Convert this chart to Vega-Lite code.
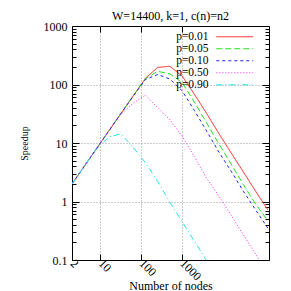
{
  "$schema": "https://vega.github.io/schema/vega-lite/v6.json",
  "width": 197,
  "height": 234,
  "autosize": {"type": "none"},
  "padding": {"left": 72, "top": 26, "right": 22, "bottom": 31},
  "background": "white",
  "title": {"text": "W=14400, k=1, c(n)=n2", "font": "Liberation Serif", "fontSize": 12, "fontWeight": "normal", "color": "black", "offset": 8, "dy": 11, "anchor": "middle"},
  "config": {
    "view": {"stroke": "black", "strokeWidth": 1},
    "axis": {"domain": false, "tickColor": "black", "labelColor": "black", "titleColor": "black", "labelFont": "Liberation Serif", "titleFont": "Liberation Serif", "titleFontWeight": "normal", "labelFontSize": 12, "titleFontSize": 12}
  },
  "data": {"values": [
    {"p": "p=0.01", "n": 2, "s": 2}, {"p": "p=0.01", "n": 4, "s": 4}, {"p": "p=0.01", "n": 8, "s": 8}, {"p": "p=0.01", "n": 16, "s": 16}, {"p": "p=0.01", "n": 32, "s": 32}, {"p": "p=0.01", "n": 64, "s": 64}, {"p": "p=0.01", "n": 128, "s": 128}, {"p": "p=0.01", "n": 256, "s": 196}, {"p": "p=0.01", "n": 512, "s": 205}, {"p": "p=0.01", "n": 1024, "s": 139}, {"p": "p=0.01", "n": 2048, "s": 68}, {"p": "p=0.01", "n": 4096, "s": 32}, {"p": "p=0.01", "n": 8192, "s": 14.5}, {"p": "p=0.01", "n": 16384, "s": 6.8}, {"p": "p=0.01", "n": 32768, "s": 3.2}, {"p": "p=0.01", "n": 65536, "s": 1.5}, {"p": "p=0.01", "n": 131072, "s": 0.72},
    {"p": "p=0.05", "n": 2, "s": 2}, {"p": "p=0.05", "n": 4, "s": 4}, {"p": "p=0.05", "n": 8, "s": 8}, {"p": "p=0.05", "n": 16, "s": 16}, {"p": "p=0.05", "n": 32, "s": 32}, {"p": "p=0.05", "n": 64, "s": 64}, {"p": "p=0.05", "n": 128, "s": 126}, {"p": "p=0.05", "n": 256, "s": 168}, {"p": "p=0.05", "n": 512, "s": 152}, {"p": "p=0.05", "n": 1024, "s": 108}, {"p": "p=0.05", "n": 2048, "s": 50}, {"p": "p=0.05", "n": 4096, "s": 22}, {"p": "p=0.05", "n": 8192, "s": 9.6}, {"p": "p=0.05", "n": 16384, "s": 4.4}, {"p": "p=0.05", "n": 32768, "s": 1.95}, {"p": "p=0.05", "n": 65536, "s": 0.9}, {"p": "p=0.05", "n": 131072, "s": 0.47},
    {"p": "p=0.10", "n": 2, "s": 2}, {"p": "p=0.10", "n": 4, "s": 4}, {"p": "p=0.10", "n": 8, "s": 8}, {"p": "p=0.10", "n": 16, "s": 16}, {"p": "p=0.10", "n": 32, "s": 32}, {"p": "p=0.10", "n": 64, "s": 63}, {"p": "p=0.10", "n": 128, "s": 122}, {"p": "p=0.10", "n": 256, "s": 148}, {"p": "p=0.10", "n": 512, "s": 124}, {"p": "p=0.10", "n": 1024, "s": 78}, {"p": "p=0.10", "n": 2048, "s": 36}, {"p": "p=0.10", "n": 4096, "s": 16}, {"p": "p=0.10", "n": 8192, "s": 7.0}, {"p": "p=0.10", "n": 16384, "s": 3.3}, {"p": "p=0.10", "n": 32768, "s": 1.5}, {"p": "p=0.10", "n": 65536, "s": 0.72}, {"p": "p=0.10", "n": 131072, "s": 0.35},
    {"p": "p=0.50", "n": 2, "s": 2}, {"p": "p=0.50", "n": 4, "s": 4}, {"p": "p=0.50", "n": 8, "s": 8}, {"p": "p=0.50", "n": 16, "s": 16}, {"p": "p=0.50", "n": 32, "s": 31}, {"p": "p=0.50", "n": 64, "s": 48}, {"p": "p=0.50", "n": 128, "s": 66}, {"p": "p=0.50", "n": 256, "s": 40}, {"p": "p=0.50", "n": 512, "s": 25}, {"p": "p=0.50", "n": 1024, "s": 13}, {"p": "p=0.50", "n": 2048, "s": 5.8}, {"p": "p=0.50", "n": 4096, "s": 2.5}, {"p": "p=0.50", "n": 8192, "s": 1.25}, {"p": "p=0.50", "n": 16384, "s": 0.58}, {"p": "p=0.50", "n": 32768, "s": 0.27}, {"p": "p=0.50", "n": 65536, "s": 0.126}, {"p": "p=0.50", "n": 131072, "s": 0.059},
    {"p": "p=0.90", "n": 2, "s": 2}, {"p": "p=0.90", "n": 4, "s": 4}, {"p": "p=0.90", "n": 8, "s": 7.8}, {"p": "p=0.90", "n": 16, "s": 12.7}, {"p": "p=0.90", "n": 32, "s": 14.3}, {"p": "p=0.90", "n": 64, "s": 8.4}, {"p": "p=0.90", "n": 128, "s": 4.6}, {"p": "p=0.90", "n": 256, "s": 2.2}, {"p": "p=0.90", "n": 512, "s": 0.97}, {"p": "p=0.90", "n": 1024, "s": 0.45}, {"p": "p=0.90", "n": 2048, "s": 0.21}, {"p": "p=0.90", "n": 4096, "s": 0.097}, {"p": "p=0.90", "n": 8192, "s": 0.045}
  ]},
  "layer": [
    {
      "mark": {"type": "line", "clip": true, "strokeWidth": 1},
      "encoding": {
        "x": {"field": "n", "type": "quantitative", "scale": {"type": "log", "domain": [2, 140000]},
          "axis": {"orient": "bottom", "values": [2, 10, 100, 1000], "format": "~g", "labelAngle": 45, "labelAlign": "left", "labelBaseline": "middle", "labelPadding": 7,
            "encode": {"labels": {"update": {"angle": {"value": 45}}}},
            "tickSize": -6, "grid": true, "gridColor": "#999999", "gridDash": [1, 2],
            "gridOpacity": {"condition": {"test": "datum.value > 3", "value": 1}, "value": 0},
            "title": "Number of nodes", "titleBaseline": "alphabetic", "titleY": 29}},
        "y": {"field": "s", "type": "quantitative", "scale": {"type": "log", "domain": [0.1, 1000]},
          "axis": {"orient": "left", "values": [0.1, 0.2, 0.3, 0.4, 0.5, 0.6, 0.7, 0.8, 0.9, 1, 2, 3, 4, 5, 6, 7, 8, 9, 10, 20, 30, 40, 50, 60, 70, 80, 90, 100, 200, 300, 400, 500, 600, 700, 800, 900, 1000],
            "format": "~g",
            "labelExpr": "abs(log(datum.value)/LN10 - round(log(datum.value)/LN10)) < 0.001 ? datum.label : ''",
            "tickSize": {"condition": {"test": "abs(log(datum.value)/LN10 - round(log(datum.value)/LN10)) < 0.001", "value": -7}, "value": -4},
            "labelPadding": 12,
            "grid": true, "gridColor": "#999999", "gridDash": [1, 2],
            "gridOpacity": {"condition": {"test": "datum.value > 0.5 && datum.value < 500 && abs(log(datum.value)/LN10 - round(log(datum.value)/LN10)) < 0.001", "value": 1}, "value": 0},
            "title": "Speedup", "titleFontSize": 10, "titlePadding": 14}},
        "color": {"field": "p", "type": "nominal",
          "scale": {"domain": ["p=0.01", "p=0.05", "p=0.10", "p=0.50", "p=0.90"], "range": ["#ff2020", "#20e020", "#2020ff", "#ff20ff", "#20e8e8"]},
          "legend": {"orient": "none", "legendX": 157, "legendY": 5, "title": null, "symbolType": "M-4,0H4", "symbolSize": 85, "symbolStrokeWidth": 1, "labelAlign": "right", "labelOffset": -32, "labelFont": "Liberation Serif", "labelFontSize": 11.5, "labelColor": "black", "rowPadding": -6, "padding": 0}},
        "strokeDash": {"field": "p", "type": "nominal",
          "scale": {"domain": ["p=0.01", "p=0.05", "p=0.10", "p=0.50", "p=0.90"], "range": [[1, 0], [6, 3], [3, 3], [1, 2], [6, 3, 1, 3]]},
          "legend": {"orient": "none", "legendX": 157, "legendY": 5, "title": null, "symbolType": "M-4,0H4", "symbolSize": 85, "symbolStrokeWidth": 1, "labelAlign": "right", "labelOffset": -32, "labelFont": "Liberation Serif", "labelFontSize": 11.5, "labelColor": "black", "rowPadding": -6, "padding": 0}}
      }
    },
    {
      "mark": {"type": "point", "opacity": 0},
      "encoding": {
        "x": {"field": "n", "type": "quantitative", "scale": {"type": "log", "domain": [2, 140000]},
          "axis": {"orient": "top", "values": [10, 100, 1000], "labels": false, "tickSize": -6, "grid": false, "title": null}},
        "y": {"field": "s", "type": "quantitative", "scale": {"type": "log", "domain": [0.1, 1000]},
          "axis": {"orient": "right", "values": [0.1, 0.2, 0.3, 0.4, 0.5, 0.6, 0.7, 0.8, 0.9, 1, 2, 3, 4, 5, 6, 7, 8, 9, 10, 20, 30, 40, 50, 60, 70, 80, 90, 100, 200, 300, 400, 500, 600, 700, 800, 900, 1000],
            "labels": false, "grid": false, "title": null,
            "tickSize": {"condition": {"test": "abs(log(datum.value)/LN10 - round(log(datum.value)/LN10)) < 0.001", "value": -7}, "value": -4}}}
      }
    }
  ],
  "resolve": {"axis": {"x": "independent", "y": "independent"}}
}
